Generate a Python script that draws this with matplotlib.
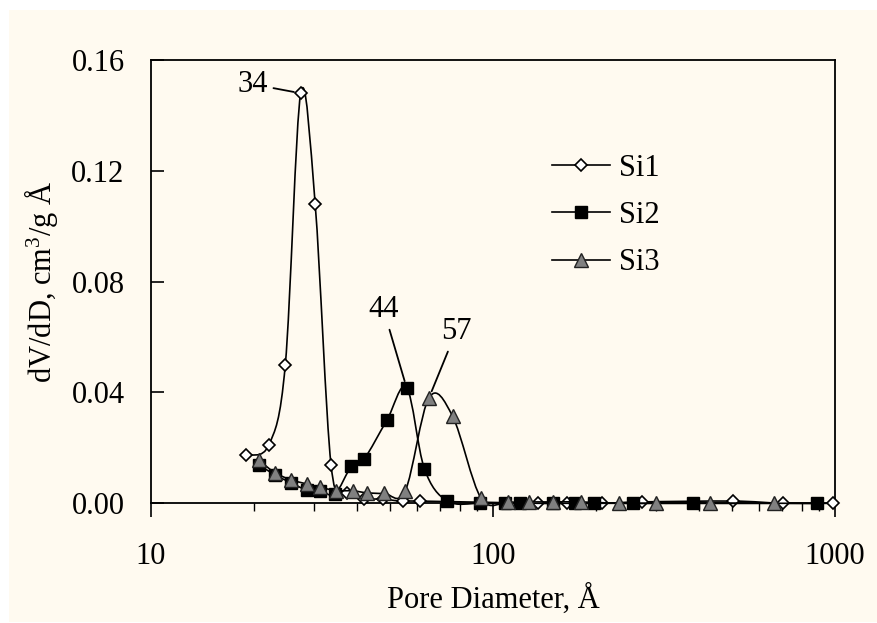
import matplotlib
matplotlib.use('Agg')
import matplotlib.pyplot as plt
import numpy as np
from matplotlib.path import Path
from matplotlib.patches import PathPatch, Rectangle
from matplotlib.lines import Line2D
from matplotlib.ticker import FixedLocator, LogLocator, NullFormatter

plt.rcParams['font.family'] = ['Liberation Serif', 'DejaVu Serif']
plt.rcParams['mathtext.fontset'] = 'custom'
plt.rcParams['mathtext.rm'] = 'Liberation Serif'
plt.rcParams['mathtext.it'] = 'Liberation Serif:italic'

# Dados
si1_x = [19.0, 22.1, 24.7, 27.4, 30.2, 33.6, 37.3, 42.0, 47.6, 54.5, 61.2,
         135.7, 164.3, 207.9, 272.1, 502, 706, 988]
si1_y = [0.0175, 0.021, 0.050, 0.148, 0.108, 0.014, 0.0038, 0.0017, 0.0015, 0.0007, 0.0008,
         0.0, 0.0, 0.0, 0.0005, 0.0008, 0.0, 0.0]

si2_x = [20.7, 23.0, 25.6, 28.5, 31.1, 34.5, 38.5, 42.0, 48.9, 55.9, 63.0,
         73.5, 91.6, 108.5, 119.6, 150.0, 174.0, 197.6, 256.7, 383.5, 884]
si2_y = [0.0139, 0.0103, 0.0075, 0.0048, 0.0046, 0.0034, 0.0133, 0.016, 0.0299, 0.0417, 0.0125,
         0.0008, 0.0, 0.0, 0.0, 0.0, 0.0, 0.0, 0.0, 0.0, 0.0]

si3_x = [20.7, 23.0, 25.6, 28.5, 31.1, 34.8, 38.9, 42.8, 48.1, 55.4, 65.0,
         76.2, 92.3, 110.9, 127.7, 150.0, 180.3, 233.9, 300.2, 431, 664]
si3_y = [0.0155, 0.0111, 0.0085, 0.0070, 0.0058, 0.0046, 0.0045, 0.0038, 0.0036, 0.0045, 0.0381,
         0.0314, 0.0018, 0.0005, 0.0005, 0.0005, 0.0005, 0.0, 0.0, 0.0, 0.0]

labels = ['Si1', 'Si2', 'Si3']
peak_labels = ['34', '44', '57']

bg = '#fffaf0'
fs = 22


def smooth_path(xs, ys):
    # curva suavizada tipo Excel (Bezier), calculada em log10(x)
    lx = np.log10(xs)
    y = np.array(ys, dtype=float)
    n = len(lx)
    verts = [(xs[0], y[0])]
    codes = [Path.MOVETO]
    for i in range(n - 1):
        p0 = max(i - 1, 0)
        p3 = min(i + 2, n - 1)
        c1x = lx[i] + (lx[i + 1] - lx[p0]) / 6
        c1y = y[i] + (y[i + 1] - y[p0]) / 6
        c2x = lx[i + 1] - (lx[p3] - lx[i]) / 6
        c2y = y[i + 1] - (y[p3] - y[i]) / 6
        verts += [(10 ** c1x, c1y), (10 ** c2x, c2y), (xs[i + 1], y[i + 1])]
        codes += [Path.CURVE4] * 3
    return Path(verts, codes)


fig = plt.figure(figsize=(8.77, 6.23), dpi=100)
fig.patch.set_facecolor('white')
fig.patches.append(Rectangle((9 / 877, 1 / 623), 868 / 877, 612 / 623,
                             transform=fig.transFigure, facecolor=bg,
                             edgecolor='none', zorder=-10))

ax = fig.add_axes([151 / 877, 119.7 / 623, 684 / 877, 443.3 / 623])
ax.set_facecolor(bg)

styles = [
    dict(marker='D', ms=6.3, mfc='white', mec='black', mew=1.2),
    dict(marker='s', ms=9.0, mfc='black', mec='black', mew=1.0),
    dict(marker='^', ms=9.5, mfc='#808080', mec='#222222', mew=1.0),
]
series = [(si1_x, si1_y), (si2_x, si2_y), (si3_x, si3_y)]

handles = []
for k, ((xs, ys), st) in enumerate(zip(series, styles)):
    ax.add_patch(PathPatch(smooth_path(xs, ys), facecolor='none', edgecolor='black',
                           lw=1.2, zorder=2 + 2 * k, clip_on=False))
    ax.plot(xs, ys, ls='none', zorder=3 + 2 * k, clip_on=False, **st)
    handles.append(Line2D([], [], color='black', lw=1.2, **st))

ax.set_xscale('log')
ax.set_xlim(10, 1000)
ax.set_ylim(0, 0.16)
ax.yaxis.set_major_locator(FixedLocator([0, 0.04, 0.08, 0.12, 0.16]))
ax.set_yticklabels(['%.2f' % v for v in [0, 0.04, 0.08, 0.12, 0.16]])
ax.xaxis.set_major_locator(FixedLocator([10, 100, 1000]))
ax.set_xticklabels(['10', '100', '1000'])
ax.xaxis.set_minor_locator(LogLocator(base=10, subs=np.arange(2, 10)))
ax.xaxis.set_minor_formatter(NullFormatter())

ax.tick_params(axis='y', direction='in', length=9, width=1.2, pad=19, labelsize=fs)
ax.tick_params(axis='x', which='major', direction='out', length=10, width=1.2, pad=18, labelsize=fs)
ax.tick_params(axis='x', which='minor', direction='out', length=6, width=1.0)
for s in ax.spines.values():
    s.set_linewidth(1.3)

ax.set_xlabel('Pore Diameter, Å', fontsize=fs, labelpad=9)
ax.set_ylabel(r'dV/dD, cm$^\mathrm{3}$/g Å', fontsize=fs, labelpad=8)

# rótulos dos picos
peaks = [(si1_x[3], si1_y[3], (-48, 9)),
         (si2_x[9], si2_y[9], (-23, 78)),
         (si3_x[10], si3_y[10], (27, 66))]
for lab, (px, py, off) in zip(peak_labels, peaks):
    ax.annotate(lab, xy=(px, py), xytext=off, textcoords='offset pixels',
                ha='center', va='center', fontsize=fs,
                arrowprops=dict(arrowstyle='-', color='black', lw=1.3,
                                shrinkA=2, shrinkB=5))

ax.legend(handles, labels, loc='center left', bbox_to_anchor=(0.586, 0.649),
          frameon=False, fontsize=fs, handlelength=1.9, handletextpad=0.3,
          labelspacing=0.6, borderpad=0, borderaxespad=0)

fig.savefig('out.png', dpi=100, facecolor=fig.get_facecolor())
